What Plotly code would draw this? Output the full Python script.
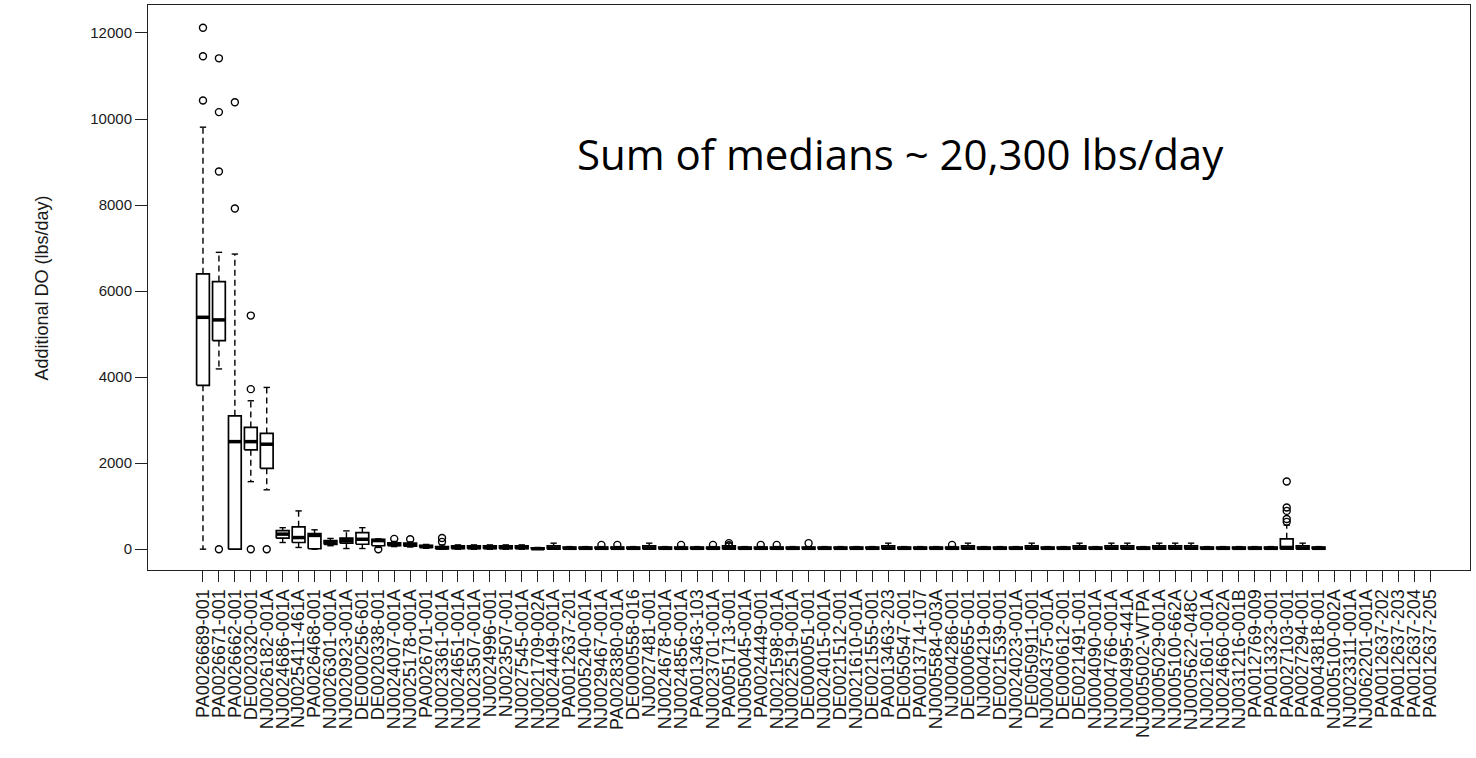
import plotly.graph_objects as go

labels = [
    "PA0026689-001", "PA0026671-001", "PA0026662-001", "DE0020320-001", "NJ0026182-001A",
    "NJ0024686-001A", "NJ0025411-461A", "PA0026468-001", "NJ0026301-001A", "NJ0020923-001A",
    "DE0000256-601", "DE0020338-001", "NJ0024007-001A", "NJ0025178-001A", "PA0026701-001",
    "NJ0023361-001A", "NJ0024651-001A", "NJ0023507-001A", "NJ0024996-001", "NJ0023507-001",
    "NJ0027545-001A", "NJ0021709-002A", "NJ0024449-001A", "PA0012637-201", "NJ0005240-001A",
    "NJ0029467-001A", "PA0028380-001A", "DE0000558-016", "NJ0027481-001", "NJ0024678-001A",
    "NJ0024856-001A", "PA0013463-103", "NJ0023701-001A", "PA0051713-001", "NJ0050045-001A",
    "PA0024449-001", "NJ0021598-001A", "NJ0022519-001A", "DE0000051-001", "NJ0024015-001A",
    "DE0021512-001", "NJ0021610-001A", "DE0021555-001", "PA0013463-203", "DE0050547-001",
    "PA0013714-107", "NJ0005584-003A", "NJ0004286-001", "DE0000655-001", "NJ0004219-001",
    "DE0021539-001", "NJ0024023-001A", "DE0050911-001", "NJ0004375-001A", "DE0000612-001",
    "DE0021491-001", "NJ0004090-001A", "NJ0004766-001A", "NJ0004995-441A", "NJ0005002-WTPA",
    "NJ0005029-001A", "NJ0005100-662A", "NJ0005622-048C", "NJ0021601-001A", "NJ0024660-002A",
    "NJ0031216-001B", "PA0012769-009", "PA0013323-001", "PA0027103-001", "PA0027294-001",
    "PA0043818-001", "NJ0005100-002A", "NJ0023311-001A", "NJ0062201-001A", "PA0012637-202",
    "PA0012637-203", "PA0012637-204", "PA0012637-205",
]

# box statistics (lbs/day); None = no data
lower = [0, 4190, 0, 1570, 1380, 155, 40, 0, 80, 15, 15, 40, 60, 50, 20, 0,
         0, 0, 0, 0, 0, 0,
         0, 0, 0, 0, 0, 0, 0, 0, 0, 0, 0, 0, 0, 0, 0, 0, 0, 0, 0, 0,
         0, 0, 0, 0, 0, 0, 0, 0, 0, 0, 0, 0, 0, 0, 0, 0, 0, 0, 0, 0,
         0, 0, 0, 0, 0, 0, 0, 0, 0,
         None, None, None, None, None, None, None]
q1 = [3810, 4850, 0, 2310, 1880, 255, 155, 10, 110, 140, 115, 80, 80, 70, 40, 5,
      10, 10, 10, 10, 10, 0,
      0, 0, 0, 0, 0, 0, 0, 0, 0, 0, 0, 0, 0, 0, 0, 0, 0, 0, 0, 0,
      0, 0, 0, 0, 0, 0, 0, 0, 0, 0, 0, 0, 0, 0, 0, 0, 0, 0, 0, 0,
      0, 0, 0, 0, 0, 0, 0, 0, 0,
      None, None, None, None, None, None, None]
median = [5390, 5330, 2500, 2500, 2440, 350, 270, 320, 160, 195, 230, 200, 110, 100, 60, 30,
          40, 40, 40, 40, 40, 10,
          30, 20, 20, 20, 20, 20, 30, 20, 20, 20, 20, 30, 20, 20, 20, 20, 20, 20, 20, 20,
          20, 30, 20, 20, 20, 20, 30, 20, 20, 20, 30, 20, 20, 30, 20, 30, 30, 20, 30, 30,
          30, 20, 20, 20, 20, 20, 40, 30, 20,
          None, None, None, None, None, None, None]
q3 = [6400, 6220, 3100, 2830, 2690, 430, 520, 360, 200, 255, 385, 230, 150, 140, 90, 60,
      80, 80, 80, 80, 80, 30,
      80, 50, 50, 50, 50, 50, 80, 50, 50, 50, 50, 80, 50, 50, 50, 50, 50, 50, 50, 50,
      50, 80, 50, 50, 50, 50, 80, 50, 50, 50, 80, 50, 50, 80, 50, 80, 80, 50, 80, 80,
      80, 50, 50, 50, 50, 50, 240, 80, 50,
      None, None, None, None, None, None, None]
upper = [9810, 6900, 6860, 3450, 3760, 500, 890, 450, 250, 425, 500, 240, 180, 170, 110, 100,
         100, 100, 100, 100, 100, 40,
         140, 60, 60, 60, 60, 60, 140, 60, 60, 60, 60, 140, 60, 60, 60, 60, 60, 60, 60, 60,
         60, 140, 60, 60, 60, 60, 140, 60, 60, 60, 140, 60, 60, 140, 60, 140, 140, 60, 140, 140,
         140, 60, 60, 60, 60, 60, 560, 140, 60,
         None, None, None, None, None, None, None]

# outliers: category index (0-based) and value
outlier_cat = [0, 0, 0, 1, 1, 1, 1, 2, 2, 3, 3, 3, 4, 11, 12, 13, 15, 15,
               25, 26, 30, 32, 33, 33, 35, 36, 38, 47, 68, 68, 68, 68, 68]
outlier_val = [10430, 11460, 12120, 0, 8780, 10160, 11410, 7920, 10390, 0, 3720, 5430, 0,
               0, 240, 230, 170, 260,
               100, 100, 100, 100, 90, 140, 100, 100, 140, 100, 635, 700, 890, 970, 1575]

y_ticks = [0, 2000, 4000, 6000, 8000, 10000, 12000]
y_ticktext = ["0", "2000", "4000", "6000", "8000", "10000", "12000"]

box_half = 0.4
cap_half = 0.2

bx, by, mx, my, wx, wy, cx, cy = [], [], [], [], [], [], [], []
for i in range(len(labels)):
    if q1[i] is None:
        continue
    p = i + 1
    bx += [p - box_half, p + box_half, p + box_half, p - box_half, p - box_half, None]
    by += [q1[i], q1[i], q3[i], q3[i], q1[i], None]
    mx += [p - box_half, p + box_half, None]
    my += [median[i], median[i], None]
    wx += [p, p, None, p, p, None]
    wy += [q3[i], upper[i], None, q1[i], lower[i], None]
    cx += [p - cap_half, p + cap_half, None, p - cap_half, p + cap_half, None]
    cy += [upper[i], upper[i], None, lower[i], lower[i], None]

fig = go.Figure()
fig.add_trace(go.Scatter(x=wx, y=wy, mode="lines", line=dict(color="black", width=1.4, dash="6px,4px"),
                         hoverinfo="skip", showlegend=False))
fig.add_trace(go.Scatter(x=cx, y=cy, mode="lines", line=dict(color="black", width=1.4),
                         hoverinfo="skip", showlegend=False))
fig.add_trace(go.Scatter(x=bx, y=by, mode="lines", line=dict(color="black", width=1.7),
                         fill="toself", fillcolor="white", hoverinfo="skip", showlegend=False))
fig.add_trace(go.Scatter(x=mx, y=my, mode="lines", line=dict(color="black", width=3.5),
                         hoverinfo="skip", showlegend=False))
fig.add_trace(go.Scatter(x=[c + 1 for c in outlier_cat], y=outlier_val, mode="markers",
                         marker=dict(symbol="circle-open", size=7, color="black", line=dict(width=1.4)),
                         showlegend=False))

axis_font = dict(family="Liberation Sans, Arial, sans-serif", color="#1a1a1a")

fig.update_layout(
    width=1476, height=758,
    margin=dict(l=148, r=6, t=5, b=188, autoexpand=False),
    paper_bgcolor="white", plot_bgcolor="white",
    showlegend=False,
    xaxis=dict(range=[-2.45, 80.5], tickvals=list(range(1, len(labels) + 1)), ticktext=labels,
               tickangle=-90, tickfont=dict(size=18, **axis_font), ticks="outside", ticklen=11,
               tickcolor="#222", showgrid=False, zeroline=False, showline=True, linecolor="#222",
               linewidth=1, mirror=True, automargin=False),
    yaxis=dict(range=[-484, 12650], tickvals=y_ticks, ticktext=y_ticktext,
               tickfont=dict(size=15, **axis_font), ticks="outside", ticklen=12, tickcolor="#222",
               showgrid=False, zeroline=False, showline=True, linecolor="#222", linewidth=1,
               mirror=True, automargin=False),
    annotations=[
        dict(text="Additional DO (lbs/day)", xref="paper", yref="paper", x=-0.0802, y=0.5,
             textangle=-90, showarrow=False, xanchor="center", yanchor="middle",
             font=dict(size=18, **axis_font)),
        dict(text="Sum of medians ~ 20,300 lbs/day", xref="paper", yref="paper", x=0.323, y=0.738,
             showarrow=False, xanchor="left", yanchor="middle",
             font=dict(family="Open Sans, Lato, sans-serif", size=42, color="black")),
    ],
)

fig.write_html("out.html", config={"displayModeBar": False},
               post_script="document.body.style.margin='0px';")
